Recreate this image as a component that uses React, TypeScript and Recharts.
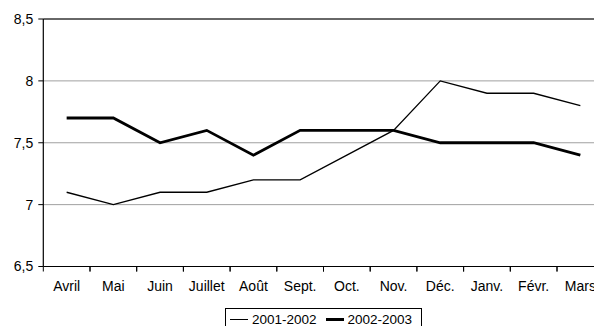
import React from "react";
import { LineChart, Line, XAxis, YAxis, CartesianGrid, ReferenceLine } from "recharts";

// Months of the season, April to March
const months = ["Avril", "Mai", "Juin", "Juillet", "Août", "Sept.", "Oct.", "Nov.", "Déc.", "Janv.", "Févr.", "Mars"];
const season2001 = [7.1, 7.0, 7.1, 7.1, 7.2, 7.2, 7.4, 7.6, 8.0, 7.9, 7.9, 7.8];
const season2002 = [7.7, 7.7, 7.5, 7.6, 7.4, 7.6, 7.6, 7.6, 7.5, 7.5, 7.5, 7.4];
const seriesNames = ["2001-2002", "2002-2003"];
const yTicks = [6.5, 7, 7.5, 8, 8.5];

const data = months.map((m, i) => ({ month: m, a: season2001[i], b: season2002[i] }));

const FONT = "'Liberation Sans', Arial, sans-serif";
const BAND = 46.7;

const MonthTick = (props: any) => {
  const { x, y, payload } = props;
  const half = BAND / 2;
  return (
    <g>
      <line x1={x - half} y1={y} x2={x - half} y2={y + 5} stroke="#000" strokeWidth={1} />
      <line x1={x + half} y1={y} x2={x + half} y2={y + 5} stroke="#000" strokeWidth={1} />
      <text x={x} y={y + 24} textAnchor="middle" fontFamily={FONT} fontSize={14} fill="#000">
        {payload.value}
      </text>
    </g>
  );
};

export default function App() {
  return (
    <div style={{ position: "absolute", left: 0, top: 0, width: 594, height: 326, overflow: "hidden", background: "#fff" }}>
      <LineChart
        width={620}
        height={326}
        data={data}
        margin={{ top: 19, right: 16.3, bottom: 0, left: 0 }}
      >
        <CartesianGrid horizontal vertical={false} stroke="#a0a0a0" strokeWidth={1} />
        <ReferenceLine y={8.5} stroke="#000" strokeWidth={1.2} />
        <XAxis
          dataKey="month"
          interval={0}
          padding={{ left: BAND / 2, right: BAND / 2 }}
          height={59.5}
          tickSize={0}
          tickMargin={0}
          tick={<MonthTick />}
          axisLine={{ stroke: "#000", strokeWidth: 1.2 }}
        />
        <YAxis
          domain={[6.5, 8.5]}
          ticks={yTicks}
          width={43.3}
          tickSize={5}
          tickMargin={5}
          tickLine={{ stroke: "#000" }}
          axisLine={{ stroke: "#000", strokeWidth: 1.2 }}
          tickFormatter={(v: number) => String(v).replace(".", ",")}
          tick={{ fontFamily: FONT, fontSize: 14, fill: "#000" }}
        />
        <Line dataKey="a" name={seriesNames[0]} stroke="#000" strokeWidth={1.3} dot={false} isAnimationActive={false} />
        <Line dataKey="b" name={seriesNames[1]} stroke="#000" strokeWidth={2.8} dot={false} isAnimationActive={false} />
      </LineChart>
      <div
        style={{
          position: "absolute",
          left: 225,
          top: 308,
          width: 197,
          height: 24,
          border: "1px solid #000",
          boxSizing: "border-box",
          display: "flex",
          alignItems: "flex-start",
          paddingTop: 2.5,
          paddingLeft: 4,
          fontFamily: FONT,
          fontSize: 13.5,
          lineHeight: "15px",
          color: "#000",
        }}
      >
        {seriesNames.map((n, i) => (
          <div key={n} style={{ display: "flex", alignItems: "center", marginRight: i === 0 ? 9 : 0 }}>
            <span style={{ display: "inline-block", width: 18, height: i === 0 ? 1 : 3, background: "#000", marginRight: 4 }} />
            <span>{n}</span>
          </div>
        ))}
      </div>
    </div>
  );
}
